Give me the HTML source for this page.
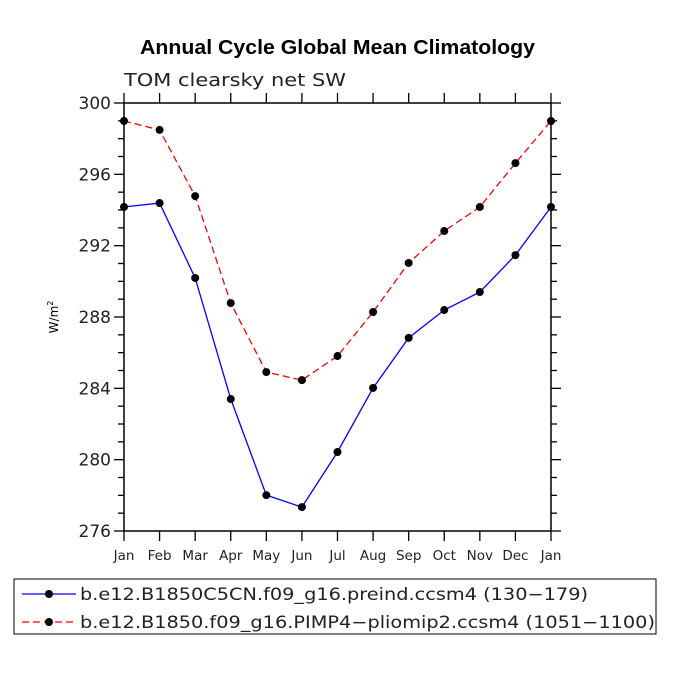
<!DOCTYPE html>
<html><head><meta charset="utf-8"><style>
body{margin:0;background:#fff}
svg{font-family:"DejaVu Sans","Liberation Sans",sans-serif}
</style></head><body>
<svg id="chart" width="675" height="675" viewBox="0 0 675 675" xmlns="http://www.w3.org/2000/svg">
<rect width="675" height="675" fill="#fff"/>
<text x="140" y="54" textLength="395" lengthAdjust="spacingAndGlyphs" font-family="Liberation Sans" font-weight="bold" font-size="20">Annual Cycle Global Mean Climatology</text>
<text x="124" y="86" textLength="222" lengthAdjust="spacingAndGlyphs" font-size="18" fill="#222">TOM clearsky net SW</text>
<text transform="translate(58,317) rotate(-90)" text-anchor="middle" font-size="12">W/m<tspan dy="-5" font-size="8">2</tspan></text>
<g id="axes"></g>
<g id="series"></g>
<g>
<rect x="14" y="579" width="642" height="55" fill="none" stroke="#000" stroke-width="1"/>
<line x1="22" y1="594" x2="76" y2="594" stroke="#0000ff" stroke-width="1.3"/>
<circle cx="49" cy="594" r="4" fill="#000"/>
<text x="80" y="600" textLength="508" lengthAdjust="spacingAndGlyphs" font-size="17" fill="#222">b.e12.B1850C5CN.f09_g16.preind.ccsm4 (130−179)</text>
<line x1="22" y1="622" x2="76" y2="622" stroke="#ff0000" stroke-width="1.3" stroke-dasharray="7,4"/>
<circle cx="49" cy="622" r="4" fill="#000"/>
<text x="80" y="628" textLength="575" lengthAdjust="spacingAndGlyphs" font-size="17" fill="#222">b.e12.B1850.f09_g16.PIMP4−pliomip2.ccsm4 (1051−1100)</text>
</g>
</svg>
<script>
const months=["Jan","Feb","Mar","Apr","May","Jun","Jul","Aug","Sep","Oct","Nov","Dec","Jan"];
const preind=[294.17,294.39,290.19,283.40,278.01,277.34,280.43,284.02,286.83,288.39,289.40,291.47,294.17];
const pliomip2=[298.99,298.49,294.78,288.78,284.91,284.46,285.81,288.28,291.03,292.82,294.17,296.63,298.99];
const yTicks=[276,280,284,288,292,296,300];
const X0=124,X1=551,Y0=531,Y1=103,YMIN=276,YMAX=300;
const ns="http://www.w3.org/2000/svg";
const xs=i=>X0+(X1-X0)*i/(months.length-1);
const ys=v=>Y0-(Y0-Y1)*(v-YMIN)/(YMAX-YMIN);
function mk(t,a,p){const e=document.createElementNS(ns,t);for(const k in a)e.setAttribute(k,a[k]);p.appendChild(e);return e;}
const ax=document.getElementById('axes');
const frame=mk('rect',{x:X0,y:Y1,width:X1-X0,height:Y0-Y1,fill:'none',stroke:'#000','stroke-width':1.5},ax);


for(let v=YMIN;v<=YMAX;v++){const major=yTicks.includes(v);const L=major?10:6;
mk('line',{x1:X0-L,y1:ys(v),x2:X0,y2:ys(v),stroke:'#000','stroke-width':1.3},ax);
mk('line',{x1:X1,y1:ys(v),x2:X1+L,y2:ys(v),stroke:'#000','stroke-width':1.3},ax);}
yTicks.forEach(v=>{const t=mk('text',{x:X0-13,y:ys(v)+6,'text-anchor':'end','font-size':17,fill:'#222'},ax);t.textContent=v;

});
months.forEach((m,i)=>{const x=xs(i);
mk('line',{x1:x,y1:Y0,x2:x,y2:Y0+10,stroke:'#000','stroke-width':1.3},ax);
mk('line',{x1:x,y1:Y1-10,x2:x,y2:Y1,stroke:'#000','stroke-width':1.3},ax);
const t=mk('text',{x:x,y:Y0+29,'text-anchor':'middle','font-size':13.5,fill:'#222'},ax);t.textContent=m;

});
const sg=document.getElementById('series');
function draw(data,color,dash,name){
const pts=data.map((v,i)=>xs(i)+','+ys(v)).join(' ');
const pl=mk('polyline',{points:pts,fill:'none',stroke:color,'stroke-width':1.3},sg);
if(dash)pl.setAttribute('stroke-dasharray',dash);


data.forEach((v,i)=>{const c=mk('circle',{cx:xs(i),cy:ys(v),r:4,fill:'#000'},sg);

});}
draw(preind,'#0000ff',null,'preind');
draw(pliomip2,'#ff0000','7,4','pliomip2');
</script>
</body></html>
